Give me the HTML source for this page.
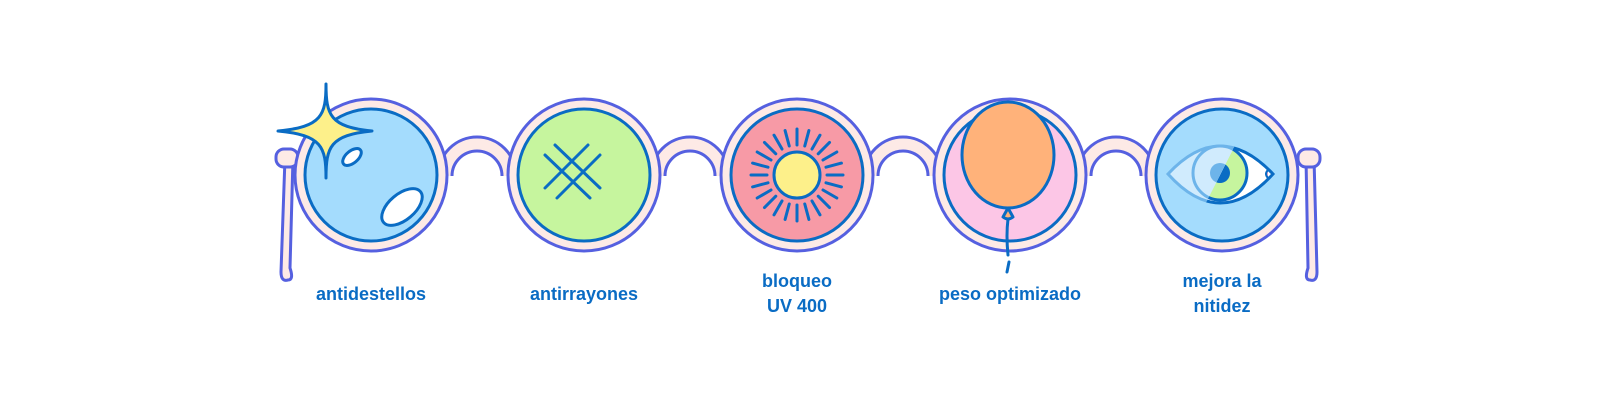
<!DOCTYPE html>
<html><head><meta charset="utf-8"><style>
html,body{margin:0;padding:0;background:#fff}
svg{display:block}
text{font-family:"Liberation Sans",sans-serif;font-weight:bold;font-size:18px;fill:#0a6cc4;text-anchor:middle}
</style></head><body>
<svg width="1600" height="400" viewBox="0 0 1600 400" xmlns="http://www.w3.org/2000/svg">
<defs>
<path id="almond" d="M1168 174 Q1220 118 1273 174 Q1220 232 1168 174Z"/>
<clipPath id="eyeclip"><use href="#almond"/></clipPath>
<clipPath id="leftHalf"><path d="M1100 100 L1258 100 L1182 250 L1100 250Z"/></clipPath>
<clipPath id="rightHalf"><path d="M1258 100 L1320 100 L1320 250 L1182 250Z"/></clipPath>
</defs>
<!-- temples -->
<path d="M285 158 L281 272 Q281 282 288 280 Q294 280 290 268 L293 158Z" fill="#fdeae6" stroke="#5560e0" stroke-width="3" stroke-linejoin="round"/>
<rect x="276" y="149" width="22" height="18" rx="8" fill="#fdeae6" stroke="#5560e0" stroke-width="3"/>
<path d="M1306 158 L1308 268 Q1304 280 1310 280 Q1317 282 1317 272 L1314 158Z" fill="#fdeae6" stroke="#5560e0" stroke-width="3" stroke-linejoin="round"/>
<rect x="1298" y="149" width="22" height="18" rx="8" fill="#fdeae6" stroke="#5560e0" stroke-width="3"/>
<!-- bridges -->
<g fill="none">
<path d="M445 176 A32 32 0 0 1 509 176" stroke="#5560e0" stroke-width="17"/>
<path d="M445 176 A32 32 0 0 1 509 176" stroke="#fdeae6" stroke-width="11"/>
<path d="M658 176 A32 32 0 0 1 722 176" stroke="#5560e0" stroke-width="17"/>
<path d="M658 176 A32 32 0 0 1 722 176" stroke="#fdeae6" stroke-width="11"/>
<path d="M871 176 A32 32 0 0 1 935 176" stroke="#5560e0" stroke-width="17"/>
<path d="M871 176 A32 32 0 0 1 935 176" stroke="#fdeae6" stroke-width="11"/>
<path d="M1084 176 A32 32 0 0 1 1148 176" stroke="#5560e0" stroke-width="17"/>
<path d="M1084 176 A32 32 0 0 1 1148 176" stroke="#fdeae6" stroke-width="11"/>
</g>
<!-- lenses -->
<g stroke-width="3">
<circle cx="371" cy="175" r="76" fill="#fdeae6" stroke="#5560e0"/>
<circle cx="371" cy="175" r="66" fill="#a4dcfd" stroke="#0a6cc4"/>
<circle cx="584" cy="175" r="76" fill="#fdeae6" stroke="#5560e0"/>
<circle cx="584" cy="175" r="66" fill="#c6f59e" stroke="#0a6cc4"/>
<circle cx="797" cy="175" r="76" fill="#fdeae6" stroke="#5560e0"/>
<circle cx="797" cy="175" r="66" fill="#f79aa6" stroke="#0a6cc4"/>
<circle cx="1010" cy="175" r="76" fill="#fdeae6" stroke="#5560e0"/>
<circle cx="1010" cy="175" r="66" fill="#fcc6e6" stroke="#0a6cc4"/>
<circle cx="1222" cy="175" r="76" fill="#fdeae6" stroke="#5560e0"/>
<circle cx="1222" cy="175" r="66" fill="#a4dcfd" stroke="#0a6cc4"/>
</g>
<!-- highlights -->
<ellipse cx="352" cy="157" rx="11" ry="6" transform="rotate(-40 352 157)" fill="#fff" stroke="#0a6cc4" stroke-width="3"/>
<ellipse cx="402" cy="207" rx="24" ry="13" transform="rotate(-40 402 207)" fill="#fff" stroke="#0a6cc4" stroke-width="3"/>
<!-- sparkle -->
<path d="M326 84 C326 115 330 127 372 131 C330 135 326 147 326 178 C326 147 322 135 278 131 C322 127 326 115 326 84Z" fill="#fdf08a" stroke="#0a6cc4" stroke-width="3" stroke-linejoin="round"/>
<!-- scratches -->
<g stroke="#0a6cc4" stroke-width="3" stroke-linecap="round">
<line x1="545" y1="155" x2="590" y2="198"/>
<line x1="555" y1="145" x2="600" y2="188"/>
<line x1="545" y1="188" x2="588" y2="145"/>
<line x1="557" y1="198" x2="600" y2="155"/>
</g>
<!-- sun -->
<g stroke="#0a6cc4" stroke-width="3" stroke-linecap="round">
<g><line x1="797" y1="145" x2="797" y2="129"/><line x1="797" y1="205" x2="797" y2="221"/><line x1="767" y1="175" x2="751" y2="175"/><line x1="827" y1="175" x2="843" y2="175"/></g>
<g transform="rotate(15 797 175)"><line x1="797" y1="145" x2="797" y2="129"/><line x1="797" y1="205" x2="797" y2="221"/><line x1="767" y1="175" x2="751" y2="175"/><line x1="827" y1="175" x2="843" y2="175"/></g>
<g transform="rotate(30 797 175)"><line x1="797" y1="145" x2="797" y2="129"/><line x1="797" y1="205" x2="797" y2="221"/><line x1="767" y1="175" x2="751" y2="175"/><line x1="827" y1="175" x2="843" y2="175"/></g>
<g transform="rotate(45 797 175)"><line x1="797" y1="145" x2="797" y2="129"/><line x1="797" y1="205" x2="797" y2="221"/><line x1="767" y1="175" x2="751" y2="175"/><line x1="827" y1="175" x2="843" y2="175"/></g>
<g transform="rotate(60 797 175)"><line x1="797" y1="145" x2="797" y2="129"/><line x1="797" y1="205" x2="797" y2="221"/><line x1="767" y1="175" x2="751" y2="175"/><line x1="827" y1="175" x2="843" y2="175"/></g>
<g transform="rotate(75 797 175)"><line x1="797" y1="145" x2="797" y2="129"/><line x1="797" y1="205" x2="797" y2="221"/><line x1="767" y1="175" x2="751" y2="175"/><line x1="827" y1="175" x2="843" y2="175"/></g>
</g>
<circle cx="797" cy="175" r="23" fill="#fdf08a" stroke="#0a6cc4" stroke-width="3"/>
<!-- balloon -->
<ellipse cx="1008" cy="155" rx="46" ry="53" fill="#ffb27a" stroke="#0a6cc4" stroke-width="3"/>
<path d="M1008 208 L1003 217 Q1008 221 1013 217Z" fill="#ffb27a" stroke="#0a6cc4" stroke-width="3" stroke-linejoin="round"/>
<path d="M1008 219 Q1006 235 1008 255" fill="none" stroke="#0a6cc4" stroke-width="3" stroke-linecap="round"/>
<line x1="1009" y1="262" x2="1007" y2="272" stroke="#0a6cc4" stroke-width="3" stroke-linecap="round"/>
<!-- eye -->
<path d="M1168 174 Q1220 118 1273 174 Q1220 232 1168 174Z" fill="#fff"/>
<g clip-path="url(#eyeclip)">
<circle cx="1220" cy="173" r="26" fill="#c6f59e"/>
<circle cx="1220" cy="173" r="10" fill="#0a6cc4"/>
</g>
<g clip-path="url(#leftHalf)">
<path d="M1168 174 Q1220 118 1273 174 Q1220 232 1168 174Z" fill="#d0ebfd" stroke="#6db4ea" stroke-width="3"/>
<circle cx="1220" cy="173" r="27" fill="#d0ebfd" stroke="#6db4ea" stroke-width="3"/>
<circle cx="1220" cy="173" r="10" fill="#6db4ea"/>
</g>
<g clip-path="url(#rightHalf)" fill="none" stroke="#0a6cc4" stroke-width="3">
<path d="M1168 174 Q1220 118 1273 174 Q1220 232 1168 174Z"/>
<circle cx="1220" cy="173" r="27"/>
</g>
<path d="M1268 170 Q1264 174 1268 178" fill="#f7a6c6" stroke="#0a6cc4" stroke-width="2"/>
<!-- labels -->
<text x="371" y="300">antidestellos</text>
<text x="584" y="300">antirrayones</text>
<text x="797" y="287">bloqueo</text>
<text x="797" y="312">UV 400</text>
<text x="1010" y="300">peso optimizado</text>
<text x="1222" y="287">mejora la</text>
<text x="1222" y="312">nitidez</text>
</svg>
</body></html>
